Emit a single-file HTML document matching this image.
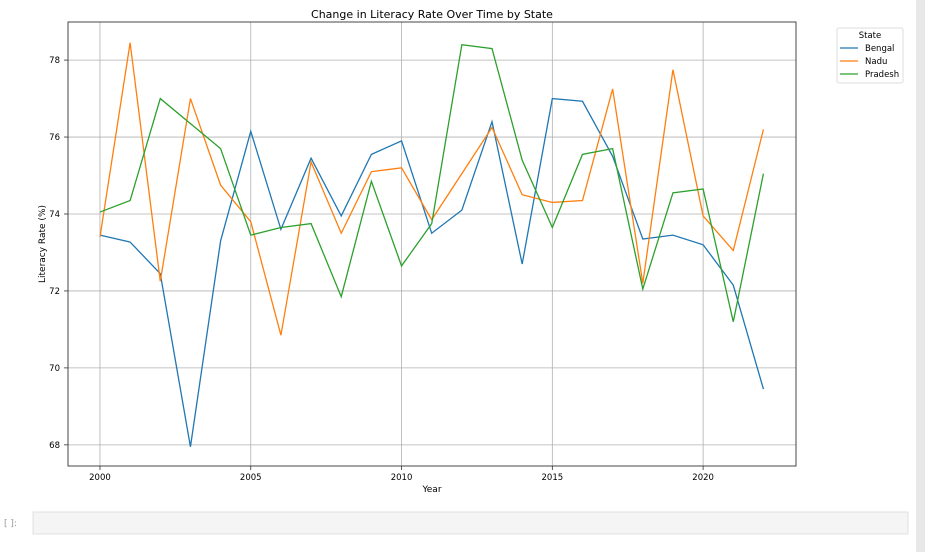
<!DOCTYPE html>
<html><head><meta charset="utf-8"><style>
body{margin:0;width:925px;height:552px;background:#fff;overflow:hidden;font-family:"Liberation Sans","DejaVu Sans",sans-serif;position:relative}
svg text{font-family:"DejaVu Sans","Liberation Sans",sans-serif}
</style></head><body>
<svg id="chart" width="925" height="552" style="position:absolute;left:0;top:0">
<text x="432" y="18" text-anchor="middle" font-size="11">Change in Literacy Rate Over Time by State</text>
<g id="grid"></g><g id="lines"></g><g id="ticks"></g>
<rect x="68" y="22" width="728" height="444" fill="none" stroke="#333" stroke-width="0.9"/>
<text x="432" y="492" text-anchor="middle" font-size="9">Year</text>
<text transform="translate(45,244) rotate(-90)" text-anchor="middle" font-size="9">Literacy Rate (%)</text>
<g>
<rect x="837" y="28" width="66" height="55" fill="#fff" stroke="#ddd" rx="2"/>
<text x="870" y="38" text-anchor="middle" font-size="8.5">State</text>
<line x1="840" y1="48" x2="858" y2="48" stroke="#1f77b4" stroke-width="1.3"/><text x="865" y="51" font-size="8.5">Bengal</text>
<line x1="840" y1="61" x2="858" y2="61" stroke="#ff7f0e" stroke-width="1.3"/><text x="865" y="64" font-size="8.5">Nadu</text>
<line x1="840" y1="74" x2="858" y2="74" stroke="#2ca02c" stroke-width="1.3"/><text x="865" y="77" font-size="8.5">Pradesh</text>
</g>
<text x="4" y="526" font-size="9" fill="#999" font-family="Liberation Mono,monospace">[ ]:</text>
<rect x="33" y="512" width="875" height="22" fill="#f5f5f5" stroke="#e0e0e0"/>
<rect x="916" y="0" width="9" height="552" fill="#e8e8e8"/>
</svg>
<script>
const years=[2000,2001,2002,2003,2004,2005,2006,2007,2008,2009,2010,2011,2012,2013,2014,2015,2016,2017,2018,2019,2020,2021,2022];
const bengal=[73.45,73.27,72.45,67.95,73.3,76.15,73.6,75.45,73.95,75.55,75.9,73.5,74.1,76.4,72.7,77.0,76.93,75.5,73.35,73.45,73.2,72.15,69.45];
const nadu=[73.4,78.45,72.25,77.0,74.75,73.8,70.85,75.35,73.5,75.1,75.2,73.85,75.05,76.25,74.5,74.3,74.35,77.25,72.2,77.75,73.95,73.05,76.2];
const pradesh=[74.05,74.35,77.0,76.35,75.7,73.45,73.65,73.75,71.85,74.85,72.65,73.75,78.4,78.3,75.4,73.65,75.55,75.7,72.05,74.55,74.65,71.2,75.05];
const xTicks=[2000,2005,2010,2015,2020];
const yTicks=[68,70,72,74,76,78];
const NS="http://www.w3.org/2000/svg";
const X0=68,X1=796,Y0=22,Y1=466,xmin=1998.94,xmax=2023.08,ymin=67.45,ymax=78.99;
const xs=v=>X0+(v-xmin)/(xmax-xmin)*(X1-X0);
const ys=v=>Y1-(v-ymin)/(ymax-ymin)*(Y1-Y0);
function mk(tag,attrs,parent){const e=document.createElementNS(NS,tag);for(const k in attrs)e.setAttribute(k,attrs[k]);document.getElementById(parent).appendChild(e);return e;}
xTicks.forEach(t=>{
const g=mk('line',{x1:xs(t),x2:xs(t),y1:Y0,y2:Y1,stroke:'#b0b0b0','stroke-width':0.8},'grid');


mk('line',{x1:xs(t),x2:xs(t),y1:Y1,y2:Y1+4,stroke:'#333','stroke-width':0.8},'ticks');
const l=mk('text',{x:xs(t),y:Y1+14,'text-anchor':'middle','font-size':8.5},'ticks');l.textContent=t;


});
yTicks.forEach(t=>{
const g=mk('line',{x1:X0,x2:X1,y1:ys(t),y2:ys(t),stroke:'#b0b0b0','stroke-width':0.8},'grid');


mk('line',{x1:X0-4,x2:X0,y1:ys(t),y2:ys(t),stroke:'#333','stroke-width':0.8},'ticks');
const l=mk('text',{x:X0-8,y:ys(t)+3,'text-anchor':'end','font-size':8.5},'ticks');l.textContent=t;


});
[[bengal,'#1f77b4','bengal-line'],[nadu,'#ff7f0e','nadu-line'],[pradesh,'#2ca02c','pradesh-line']].forEach(([d,c,n])=>{
const p=mk('polyline',{points:d.map((v,i)=>xs(years[i])+','+ys(v)).join(' '),fill:'none',stroke:c,'stroke-width':1.3},'lines');


});
</script>
</body></html>
